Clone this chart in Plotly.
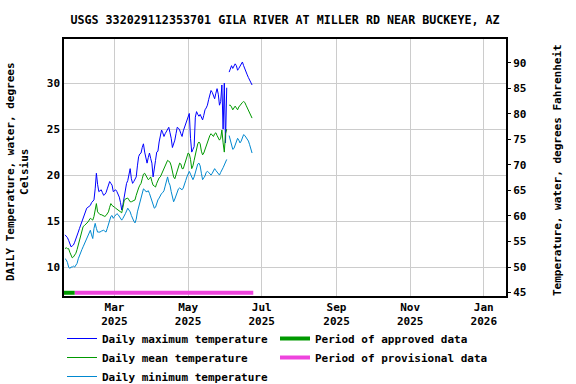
import pandas as pd
import plotly.graph_objects as go

# ---- data ----
start_date = "2025-01-19"
n_days = 156
dates = pd.date_range(start_date, periods=n_days, freq="D")

temp_max = [
    13.5, 13.4, 13.2, 12.9, 12.6, 12.2, 12.3, 12.4, 12.7, 13.0,
    13.4, 13.8, 14.2, 14.6, 15.0, 15.4, 15.7, 16.1, 16.4, 16.5,
    16.6, 16.7, 17.0, 17.2, 17.3, 18.5, 20.2, 19.0, 18.2, 18.3,
    18.4, 18.1, 17.8, 17.9, 18.1, 18.5, 18.9, 19.3, 19.1, 18.9,
    18.2, 18.3, 18.4, 18.2, 17.9, 17.6, 17.0, 16.2, 16.8, 17.6,
    18.4, 19.1, 19.4, 20.2, 20.7, 19.6, 19.1, 19.3, 19.6, 19.8,
    21.0, 22.0, 22.3, 22.4, 23.0, 23.4, 22.5, 21.9, 21.3, 21.9,
    22.4, 21.8, 21.3, 19.8, 21.0, 21.6, 22.5, 22.6, 23.6, 24.2,
    24.9, 24.6, 24.2, 24.5, 24.8, 25.0, 25.2, 24.6, 24.0, 23.0,
    23.3, 23.8, 24.5, 25.2, 25.1, 24.9, 24.5, 24.2, 24.8, 25.2,
    25.5, 25.8, 26.3, 26.7, 24.0, 22.5, 22.8, 23.1, 26.3, 26.9,
    26.6, 26.4, 26.6, 26.3, 26.0, 26.5, 27.1, 27.3, 27.6, 28.2,
    28.8, 29.2, 29.0, 28.6, 28.3, 28.9, 29.4, 28.8, 27.6, 28.0,
    29.8, 25.0, 30.0, 23.5, 29.5, None, 31.2, 31.7, 31.9, 31.6,
    31.8, 32.1, 31.9, 31.4, 31.6, 31.9, 32.1, 32.3, 31.9, 31.5,
    31.2, 30.9, 30.6, 30.3, 30.0, 29.8,
]

temp_mean = [
    12.0, 12.1, 12.0, 12.0, 11.6, 11.2, 11.0, 11.1, 11.3, 11.5,
    11.9, 12.4, 12.9, 13.4, 13.9, 14.4, 14.5, 14.6, 14.75, 14.9,
    15.1, 15.3, 15.2, 15.1, 15.5, 16.3, 16.9, 16.0, 15.8, 15.7,
    15.7, 15.6, 15.5, 15.5, 15.6, 15.8, 16.0, 16.5, 16.9, 16.7,
    16.55, 16.5, 16.4, 16.3, 16.2, 16.2, 16.0, 15.9, 16.5, 17.2,
    17.4, 17.5, 17.5, 17.3, 17.1, 17.1, 17.2, 17.2, 17.3, 17.8,
    18.3, 18.6, 18.9, 19.1, 19.6, 20.1, 20.2, 20.0, 19.7, 19.5,
    19.6, 19.8, 19.3, 18.9, 18.8, 18.7, 19.1, 19.5, 19.7, 19.8,
    20.1, 20.4, 20.7, 21.0, 21.3, 21.6, 21.5, 21.4, 21.0, 20.4,
    19.8, 19.6, 20.0, 20.5, 20.9, 21.3, 21.2, 20.7, 20.7, 21.1,
    21.5, 21.9, 22.4, 22.3, 21.7, 20.7, 21.0, 21.6, 22.3, 22.9,
    23.4, 23.6, 23.4, 22.6, 22.2, 22.4, 22.8, 23.3, 23.6, 24.0,
    24.3, 24.5, 24.4, 24.2, 24.5, 24.6, 24.3, 24.0, 23.8, 24.0,
    24.9, 23.5, 22.5, 24.5, 25.0, None, 27.6, 27.6, 27.4, 27.1,
    27.3, 27.5, 27.3, 27.1, 27.4, 27.6, 27.8, 27.9, 28.0, 27.9,
    27.6, 27.3, 27.1, 26.8, 26.4, 26.2,
]

temp_min = [
    10.9, 10.8, 10.5, 10.0, 9.85, 10.0, 10.0, 10.1, 10.0, 10.2,
    10.4, 10.9, 11.3, 11.6, 11.9, 12.2, 12.5, 12.8, 13.1, 13.4,
    13.7, 14.0, 13.5, 13.1, 14.2, 14.75, 14.2, 13.8, 13.8, 13.8,
    13.9, 14.0, 14.0, 13.9, 13.8, 14.2, 14.7, 15.1, 15.5, 15.6,
    15.3, 15.5, 15.7, 15.8, 15.7, 15.5, 15.3, 15.1, 15.3, 15.5,
    15.8, 16.1, 16.4, 16.2, 16.0, 15.6, 15.2, 15.0, 14.8, 15.2,
    16.0, 16.5, 17.0, 17.5, 18.0, 18.5, 18.4, 18.2, 18.2, 18.3,
    18.0, 17.6, 17.2, 16.9, 16.4, 16.5, 17.0, 17.3, 17.5, 17.8,
    18.0, 18.1, 18.3, 18.8, 19.3, 19.8, 19.2, 18.9, 18.2, 17.6,
    17.1, 17.4, 17.8, 18.2, 18.5, 18.6, 18.5, 18.4, 18.6, 18.9,
    19.4, 19.8, 20.1, 20.4, 20.1, 19.8, 19.5, 19.8, 20.3, 20.6,
    21.2, 21.3, 21.0, 20.2, 19.5, 19.7, 19.9, 20.3, 20.4, 20.3,
    20.2, 20.0, 20.2, 20.5, 20.7, 20.5, 20.3, 20.1, 20.0, 20.3,
    20.5, 20.8, 21.1, 21.5, 21.7, None, 24.3, 23.8, 23.4, 22.8,
    22.9, 23.2, 23.6, 24.0, 23.8, 23.5, 23.7, 24.0, 24.4, 24.3,
    24.1, 23.9, 23.7, 23.3, 22.8, 22.4,
]

approved_period = ["2025-01-18", "2025-01-27"]
provisional_period = ["2025-01-27", "2025-06-24"]

x_tick_dates = ["2025-03-01", "2025-05-01", "2025-07-01", "2025-09-01", "2025-11-01", "2026-01-01"]
x_tick_labels = ["Mar<br>2025", "May<br>2025", "Jul<br>2025", "Sep<br>2025", "Nov<br>2025", "Jan<br>2026"]
c_ticks = [10, 15, 20, 25, 30]
f_ticks = [45, 50, 55, 60, 65, 70, 75, 80, 85, 90]

title = "USGS 332029112353701 GILA RIVER AT MILLER RD NEAR BUCKEYE, AZ"
left_title = "DAILY Temperature, water, degrees<br>Celsius"
right_title = "Temperature, water, degrees Fahrenheit"

# ---- figure ----
FONT = "DejaVu Sans Mono"
W, H = 576, 384
ML, MR, MT, MB = 64, 70, 39, 88
c_range = [6.85, 34.8]
f_range = [c * 1.8 + 32 for c in c_range]
period_level = 7.2

fig = go.Figure()
fig.add_trace(go.Scatter(x=dates, y=temp_max, mode="lines", name="Daily maximum temperature",
                         line=dict(color="#0000ff", width=1), legend="legend", legendrank=1))
fig.add_trace(go.Scatter(x=dates, y=temp_mean, mode="lines", name="Daily mean temperature",
                         line=dict(color="#009900", width=1), legend="legend", legendrank=2))
fig.add_trace(go.Scatter(x=dates, y=temp_min, mode="lines", name="Daily minimum temperature",
                         line=dict(color="#0088d0", width=1), legend="legend", legendrank=3))
fig.add_trace(go.Scatter(x=provisional_period, y=[period_level] * 2, mode="lines",
                         name="Period of provisional data",
                         line=dict(color="#ee44dd", width=4), legend="legend2", legendrank=2))
fig.add_trace(go.Scatter(x=approved_period, y=[period_level] * 2, mode="lines",
                         name="Period of approved data",
                         line=dict(color="#009900", width=4), legend="legend2", legendrank=1))
# invisible trace to activate right axis
fig.add_trace(go.Scatter(x=[dates[0]], y=[None], yaxis="y2", showlegend=False, hoverinfo="skip"))

legend_common = dict(orientation="v", xref="container", yref="container",
                     xanchor="left", yanchor="top", traceorder="normal",
                     font=dict(size=11, family=FONT, weight="bold"),
                     bgcolor="rgba(0,0,0,0)", borderwidth=0)

pw = W - ML - MR
ph = H - MT - MB

fig.update_layout(
    width=W, height=H,
    margin=dict(l=ML, r=MR, t=MT, b=MB, autoexpand=False),
    paper_bgcolor="white", plot_bgcolor="white",
    font=dict(family=FONT, size=11, color="black", weight="bold"),
    title=dict(text=title, x=0.5, xref="paper", y=1 - 20 / H, yref="container",
               xanchor="center", yanchor="middle", font=dict(size=11.7, family=FONT, weight="bold")),
    showlegend=True,
    legend=dict(x=62 / W, y=1 - 324 / H, **legend_common),
    legend2=dict(x=275 / W, y=1 - 324 / H, **legend_common),
    xaxis=dict(type="date", range=["2025-01-18 04:00", "2026-01-19 10:00"],
               tickvals=x_tick_dates, ticktext=x_tick_labels, ticks="",
               showgrid=True, gridcolor="#cccccc", gridwidth=1,
               showline=True, linecolor="black", linewidth=1.5, mirror=True,
               zeroline=False, tickfont=dict(size=11)),
    yaxis=dict(range=c_range, tickvals=c_ticks, ticks="",
               showgrid=True, gridcolor="#cccccc", gridwidth=1,
               showline=True, linecolor="black", linewidth=1.5, mirror=True,
               zeroline=False, tickfont=dict(size=11)),
    yaxis2=dict(range=f_range, tickvals=f_ticks, overlaying="y", side="right",
                ticks="outside", ticklen=4, tickcolor="black",
                showgrid=False, zeroline=False, showline=False, tickfont=dict(size=11)),
    annotations=[
        dict(text=left_title, textangle=-90, xref="paper", yref="paper",
             x=(18 - ML) / pw, y=(H - MB - 172) / ph, xanchor="center", yanchor="middle",
             showarrow=False, font=dict(size=11, family=FONT, weight="bold")),
        dict(text=right_title, textangle=-90, xref="paper", yref="paper",
             x=(557 - ML) / pw, y=(H - MB - 170) / ph, xanchor="center", yanchor="middle",
             showarrow=False, font=dict(size=11, family=FONT, weight="bold")),
    ],
)

fig.write_html("out.html", config={"displayModeBar": False},
               post_script="document.body.style.margin='0';")
